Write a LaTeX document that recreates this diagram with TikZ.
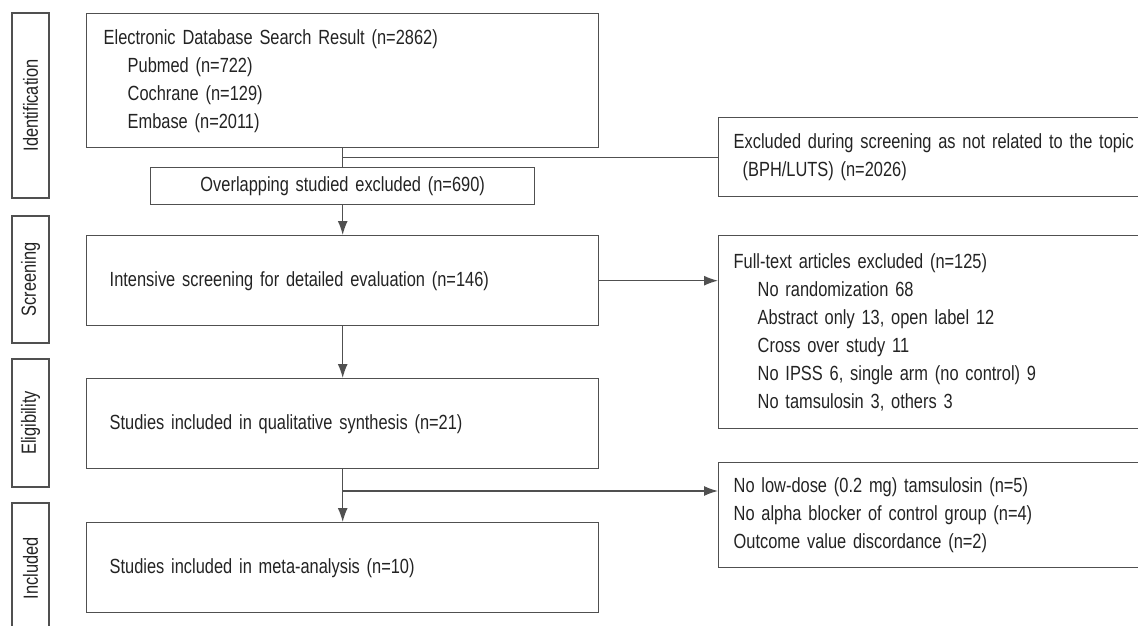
\documentclass[tikz,border=0pt]{standalone}
\usepackage{fontspec}
\setmainfont{Liberation Sans}[FakeStretch=0.8]
\usepackage{tikz}
\usetikzlibrary{arrows.meta}
\definecolor{line-gray}{RGB}{80,80,80}
\definecolor{text-gray}{RGB}{35,35,35}
\tikzset{
    flow-box/.style = {draw=line-gray, line width=1.4pt, rectangle, anchor=north west, align=left, text=text-gray, inner ysep=0pt, font=\fontsize{20.5}{28}\selectfont},
    side-box/.style = {draw=line-gray, line width=1.4pt, rectangle, rotate=90, minimum height=37pt, inner sep=0pt, text=text-gray, font=\fontsize{20.5}{20}\selectfont},
    flow-line/.style = {draw=line-gray, line width=1.4pt},
    flow-arrow/.style = {flow-line, -{Latex[length=14pt,width=10pt]}},
}

\begin{document}
\begin{tikzpicture}[x=1pt, y=-1pt]
\useasboundingbox (0,0) rectangle (1138,626);
% stage labels
\node[side-box, minimum width=185pt] (ident) at (30.5,105.5) {Identification};
\node[side-box, minimum width=127pt] (screening) at (30.5,279.5) {Screening};
\node[side-box, minimum width=128pt] (eligibility) at (30.5,423) {Eligibility};
\node[side-box, minimum width=130pt] (included) at (30.5,568) {Included};
% main column
\node[flow-box, text width=478pt, inner xsep=17pt, minimum height=134pt] (search) at (86,13) {Electronic Database Search Result (n=2862)\\
    \hspace*{24pt}Pubmed (n=722)\\
    \hspace*{24pt}Cochrane (n=129)\\
    \hspace*{24pt}Embase (n=2011)};
\node[flow-box, align=center, text width=384pt, inner xsep=0pt, minimum height=37pt] (overlap) at (150,167) {Overlapping studied excluded (n=690)};
\node[flow-box, text width=466pt, inner xsep=23pt, minimum height=90pt] (screen) at (86,235) {Intensive screening for detailed evaluation (n=146)};
\node[flow-box, text width=466pt, inner xsep=23pt, minimum height=90pt] (elig) at (86,378) {Studies included in qualitative synthesis (n=21)};
\node[flow-box, text width=466pt, inner xsep=23pt, minimum height=90pt] (incl) at (86,522) {Studies included in meta-analysis (n=10)};
% excluded column
\node[flow-box, text width=420pt, inner xsep=15pt, minimum height=79pt] (excluded) at (718,117) {Excluded during screening as not related to the topic\\
    \hspace*{9pt}(BPH/LUTS) (n=2026)};
\node[flow-box, text width=420pt, inner xsep=15pt, minimum height=193pt] (fulltext) at (718,235) {Full-text articles excluded (n=125)\\
    \hspace*{24pt}No randomization 68\\
    \hspace*{24pt}Abstract only 13, open label 12\\
    \hspace*{24pt}Cross over study 11\\
    \hspace*{24pt}No IPSS 6, single arm (no control) 9\\
    \hspace*{24pt}No tamsulosin 3, others 3};
\node[flow-box, text width=420pt, inner xsep=15pt, minimum height=105pt] (lowdose) at (718,462) {No low-dose (0.2 mg) tamsulosin (n=5)\\
    No alpha blocker of control group (n=4)\\
    Outcome value discordance (n=2)};
% connectors
\draw[flow-line] (search.south) -- (overlap.north);
\draw[flow-line] (search.south |- excluded.west) -- (excluded.west);
\draw[flow-arrow] (overlap.south) -- (screen.north);
\draw[flow-arrow] (screen.east) -- (screen.east -| fulltext.west);
\draw[flow-arrow] (screen.south) -- (elig.north);
\draw[flow-arrow] (elig.south) -- (incl.north);
\coordinate (split) at (342,491);
\draw[flow-arrow] (split) -- (split -| lowdose.west);
\end{tikzpicture}
\end{document}
